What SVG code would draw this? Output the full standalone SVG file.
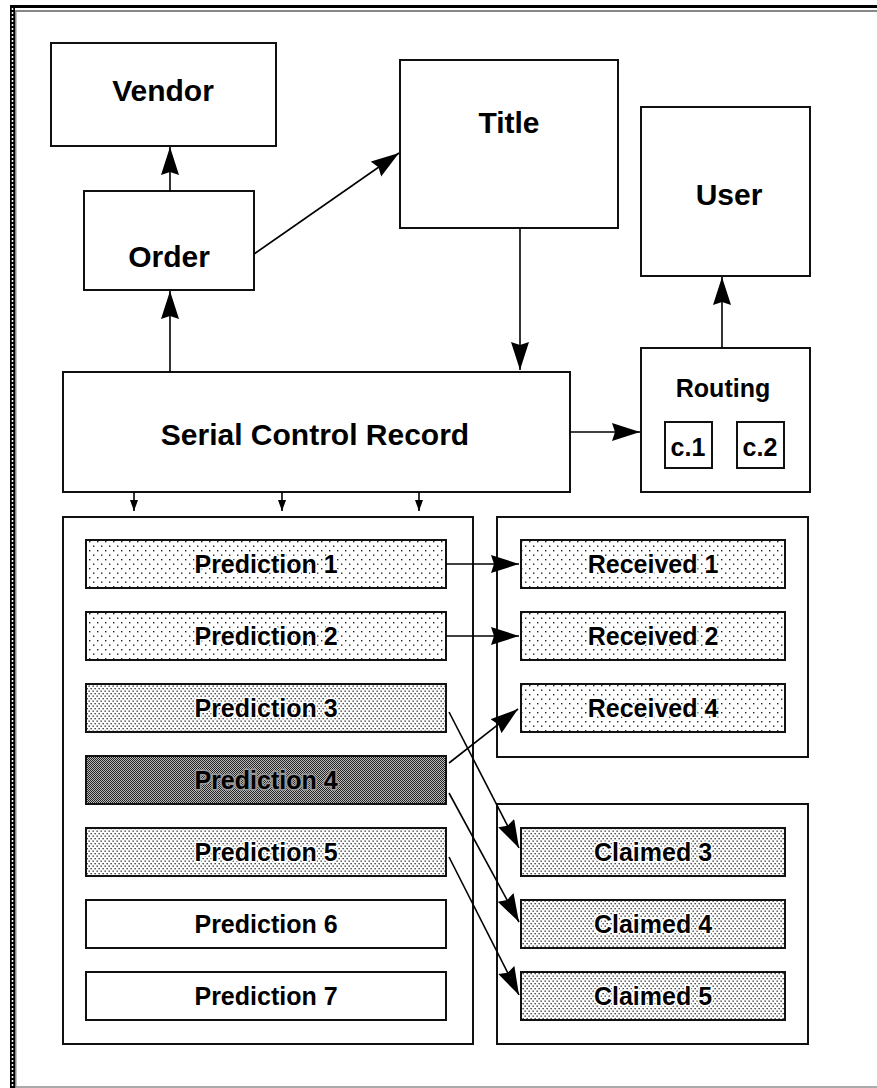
<svg xmlns="http://www.w3.org/2000/svg" width="877" height="1088" viewBox="0 0 877 1088">
<style>
.box{fill:#fff;stroke:#111;stroke-width:2}
.big{font-family:"Liberation Sans",Arial,sans-serif;font-weight:bold;font-size:30px;text-anchor:middle;fill:#000}
.mid{font-family:"Liberation Sans",Arial,sans-serif;font-weight:bold;font-size:25px;text-anchor:middle;fill:#000}
.lbl{font-family:"Liberation Sans",Arial,sans-serif;font-weight:bold;font-size:25px;text-anchor:middle;fill:#000;stroke:#fff;stroke-width:3;paint-order:stroke;stroke-linejoin:round}
.plain{font-family:"Liberation Sans",Arial,sans-serif;font-weight:bold;font-size:25px;text-anchor:middle;fill:#000}
.conn{stroke:#000;stroke-width:1.6;fill:none}
</style>
<defs>
<pattern id="light" width="8" height="9" patternUnits="userSpaceOnUse">
<rect width="8" height="9" fill="#fff"/>
<rect x="1" y="1" width="1.4" height="1.4" fill="#222"/>
<rect x="5" y="5.5" width="1.4" height="1.4" fill="#222"/>
</pattern>
<pattern id="med" width="4" height="5" patternUnits="userSpaceOnUse">
<rect width="4" height="5" fill="#fff"/>
<rect x="0.5" y="0.5" width="1.3" height="1.3" fill="#222"/>
<rect x="2.5" y="3" width="1.3" height="1.3" fill="#222"/>
</pattern>
<pattern id="dark" width="2" height="2" patternUnits="userSpaceOnUse">
<rect width="2" height="2" fill="#bbb"/>
<rect x="0" y="0" width="1" height="1" fill="#222"/>
<rect x="1" y="1" width="1" height="1" fill="#222"/>
</pattern>
<marker id="ah" markerUnits="userSpaceOnUse" markerWidth="30" markerHeight="20" refX="28" refY="9" orient="auto">
<path d="M0,0 L28,9 L0,18 L3,9 z" fill="#000"/>
</marker>
<marker id="as" markerUnits="userSpaceOnUse" markerWidth="12" markerHeight="10" refX="11" refY="4" orient="auto">
<path d="M0,0 L11,4 L0,8 z" fill="#000"/>
</marker>
</defs>

<rect width="877" height="1088" fill="#fff"/>
<g id="frame">
<rect x="10" y="5" width="867" height="3" fill="#000"/>
<rect x="16" y="10" width="861" height="2" fill="#888"/>
<rect x="10" y="5" width="5" height="1083" fill="#000"/>
<line x1="12.5" y1="8" x2="12.5" y2="1088" stroke="#fff" stroke-width="1.5" stroke-dasharray="2,2"/>
<rect x="15" y="10" width="1.5" height="1078" fill="#888"/>
<rect x="16" y="1086" width="861" height="2" fill="#aaa"/>
</g>

<g id="vendor"><rect class="box" x="51" y="43" width="225" height="103"/><text class="big" x="163" y="101">Vendor</text></g>
<g id="order"><rect class="box" x="84" y="191" width="170" height="99"/><text class="big" x="169" y="267">Order</text></g>
<g id="title"><rect class="box" x="400" y="60" width="218" height="168"/><text class="big" x="509" y="133">Title</text></g>
<g id="user"><rect class="box" x="641" y="107" width="169" height="169"/><text class="big" x="729" y="205">User</text></g>
<g id="scr"><rect class="box" x="63" y="372" width="507" height="120"/><text class="big" x="315" y="445">Serial Control Record</text></g>
<g id="routing"><rect class="box" x="641" y="348" width="169" height="144"/><text class="mid" x="723" y="397">Routing</text>
<rect class="box" x="665" y="422" width="47" height="46"/><text class="mid" x="688" y="456">c.1</text>
<rect class="box" x="737" y="422" width="47" height="46"/><text class="mid" x="760" y="456">c.2</text></g>

<g id="predictions">
<rect class="box" x="63" y="517" width="410" height="527"/>
<g id="p1"><rect x="86" y="540" width="360" height="48" fill="url(#light)" stroke="#111" stroke-width="2"/><text class="lbl" x="266" y="573">Prediction 1</text></g>
<g id="p2"><rect x="86" y="612" width="360" height="48" fill="url(#light)" stroke="#111" stroke-width="2"/><text class="lbl" x="266" y="645">Prediction 2</text></g>
<g id="p3"><rect x="86" y="684" width="360" height="48" fill="url(#med)" stroke="#111" stroke-width="2"/><text class="lbl" x="266" y="717">Prediction 3</text></g>
<g id="p4"><rect x="86" y="756" width="360" height="48" fill="url(#dark)" stroke="#111" stroke-width="2"/><text class="lbl" x="266" y="789" style="stroke:#999">Prediction 4</text></g>
<g id="p5"><rect x="86" y="828" width="360" height="48" fill="url(#med)" stroke="#111" stroke-width="2"/><text class="lbl" x="266" y="861">Prediction 5</text></g>
<g id="p6"><rect class="box" x="86" y="900" width="360" height="48"/><text class="plain" x="266" y="933">Prediction 6</text></g>
<g id="p7"><rect class="box" x="86" y="972" width="360" height="48"/><text class="plain" x="266" y="1005">Prediction 7</text></g>
</g>

<g id="received">
<rect class="box" x="497" y="517" width="311" height="240"/>
<g id="r1"><rect x="521" y="540" width="264" height="48" fill="url(#light)" stroke="#111" stroke-width="2"/><text class="lbl" x="653" y="573">Received 1</text></g>
<g id="r2"><rect x="521" y="612" width="264" height="48" fill="url(#light)" stroke="#111" stroke-width="2"/><text class="lbl" x="653" y="645">Received 2</text></g>
<g id="r4"><rect x="521" y="684" width="264" height="48" fill="url(#light)" stroke="#111" stroke-width="2"/><text class="lbl" x="653" y="717">Received 4</text></g>
</g>

<g id="claimed">
<rect class="box" x="497" y="804" width="311" height="240"/>
<g id="c3"><rect x="521" y="828" width="264" height="48" fill="url(#med)" stroke="#111" stroke-width="2"/><text class="lbl" x="653" y="861">Claimed 3</text></g>
<g id="c4"><rect x="521" y="900" width="264" height="48" fill="url(#med)" stroke="#111" stroke-width="2"/><text class="lbl" x="653" y="933">Claimed 4</text></g>
<g id="c5"><rect x="521" y="972" width="264" height="48" fill="url(#med)" stroke="#111" stroke-width="2"/><text class="lbl" x="653" y="1005">Claimed 5</text></g>
</g>

<g id="connectors">
<line class="conn" x1="170" y1="191" x2="170" y2="147" marker-end="url(#ah)"/>
<line class="conn" x1="254" y1="254" x2="399" y2="153" marker-end="url(#ah)"/>
<line class="conn" x1="170" y1="372" x2="170" y2="291" marker-end="url(#ah)"/>
<line class="conn" x1="520" y1="228" x2="520" y2="370" marker-end="url(#ah)"/>
<line class="conn" x1="722" y1="348" x2="722" y2="277" marker-end="url(#ah)"/>
<line class="conn" x1="570" y1="432" x2="640" y2="432" marker-end="url(#ah)"/>
<line class="conn" x1="134" y1="492" x2="134" y2="511" marker-end="url(#as)"/>
<line class="conn" x1="282" y1="492" x2="282" y2="511" marker-end="url(#as)"/>
<line class="conn" x1="419" y1="492" x2="419" y2="511" marker-end="url(#as)"/>
<line class="conn" x1="446" y1="564" x2="519" y2="564" marker-end="url(#ah)"/>
<line class="conn" x1="446" y1="636" x2="519" y2="636" marker-end="url(#ah)"/>
<line class="conn" x1="449" y1="712" x2="519" y2="848" marker-end="url(#ah)"/>
<line class="conn" x1="449" y1="763" x2="518" y2="709" marker-end="url(#ah)"/>
<line class="conn" x1="449" y1="793" x2="519" y2="922" marker-end="url(#ah)"/>
<line class="conn" x1="449" y1="857" x2="519" y2="995" marker-end="url(#ah)"/>
</g>
</svg>
